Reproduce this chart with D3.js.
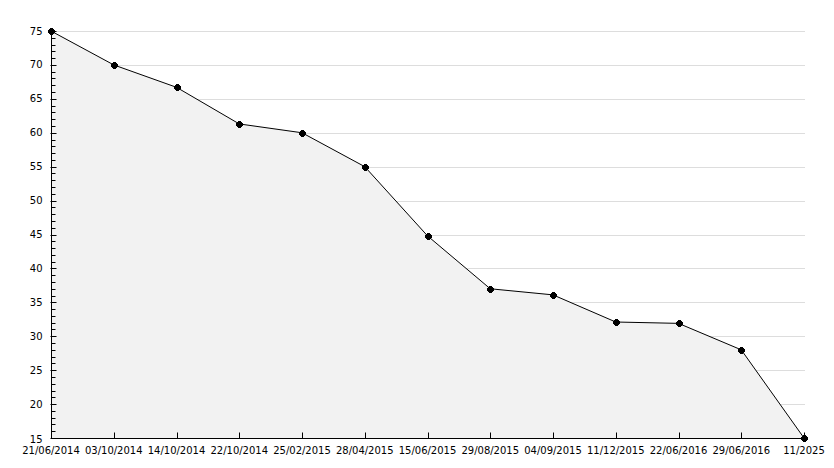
<!DOCTYPE html>
<html lang="en">
<head>
<meta charset="utf-8">
<title>Progress</title>
<script src="https://d3js.org/d3.v7.min.js"></script>
<style>
  body { margin: 0; background: #fff; font-family: "DejaVu Sans", Verdana, sans-serif; }
  text { font-size: 10px; fill: #000; }
</style>
</head>
<body>
<div id="vis"></div>
<script>
  // chart data
  const dates = ["21/06/2014", "03/10/2014", "14/10/2014", "22/10/2014", "25/02/2015", "28/04/2015",
    "15/06/2015", "29/08/2015", "04/09/2015", "11/12/2015", "22/06/2016", "29/06/2016", "11/2025"];
  const values = [75, 70, 66.7, 61.3, 60, 55, 44.8, 37, 36.1, 32.1, 31.9, 28, 15];
  const yTicks = [15, 20, 25, 30, 35, 40, 45, 50, 55, 60, 65, 70, 75];

  const width = 834, height = 468;
  // plot box
  const box = { left: 51, right: 805, top: 31, bottom: 438 };

  const svg = d3.select('#vis').append('svg')
    .attr('width', width)
    .attr('height', height);

  const x = d3.scalePoint().domain(d3.range(dates.length)).range([box.left, 804]);
  const y = d3.scaleLinear().domain([15, 75]).range([box.bottom, box.top]);

  // gridlines
  svg.append('g')
    .selectAll('line')
    .data(yTicks.slice(1))
    .join('line')
    .attr('x1', box.left).attr('x2', box.right)
    .attr('y1', d => Math.round(y(d)) + 0.5).attr('y2', d => Math.round(y(d)) + 0.5)
    .attr('stroke', '#dddddd');

  const pts = values.map((v, i) => [x(i), y(v)]);

  // area under the line
  svg.append('path')
    .datum(pts)
    .attr('fill', '#f2f2f2')
    .attr('d', d3.area().x(d => d[0]).y0(box.bottom).y1(d => d[1]));

  svg.append('path')
    .datum(pts)
    .attr('fill', 'none')
    .attr('stroke', '#000')
    .attr('stroke-width', 1)
    .attr('d', d3.line());

  // y axis, ticks pointing inward
  const yAxis = svg.append('g').attr('transform', `translate(${box.left + 0.5},0)`);
  yAxis.append('line').attr('y1', box.top - 2).attr('y2', box.bottom).attr('stroke', '#000');
  yAxis.selectAll('.minor')
    .data(d3.range(16, 75))
    .join('line')
    .attr('class', 'minor')
    .attr('x1', 0).attr('x2', 4)
    .attr('y1', d => Math.round(y(d)) + 0.5).attr('y2', d => Math.round(y(d)) + 0.5)
    .attr('stroke', '#000');
  yAxis.selectAll('.major')
    .data(yTicks)
    .join('line')
    .attr('class', 'major')
    .attr('x1', -1).attr('x2', 5)
    .attr('y1', d => Math.round(y(d)) + 0.5).attr('y2', d => Math.round(y(d)) + 0.5)
    .attr('stroke', '#000');
  yAxis.selectAll('text')
    .data(yTicks)
    .join('text')
    .attr('x', -9)
    .attr('y', d => y(d) + (d === 15 ? 1 : 0))
    .attr('dy', '0.35em')
    .attr('text-anchor', 'end')
    .text(d => d);

  // x axis, ticks pointing up
  const xAxis = svg.append('g').attr('transform', `translate(0,${box.bottom + 0.5})`);
  xAxis.append('line').attr('x1', box.left).attr('x2', box.right).attr('stroke', '#000');
  xAxis.selectAll('.tick')
    .data(d3.range(dates.length))
    .join('line')
    .attr('class', 'tick')
    .attr('x1', i => Math.round(x(i)) + 0.5).attr('x2', i => Math.round(x(i)) + 0.5)
    .attr('y1', 0).attr('y2', -6)
    .attr('stroke', '#000');
  xAxis.selectAll('text')
    .data(dates)
    .join('text')
    .attr('x', (d, i) => x(i))
    .attr('y', 15)
    .attr('text-anchor', 'middle')
    .text(d => d);

  // point markers: small blob with spikes, like the original asterisk dot
  const marker = svg.append('g')
    .attr('shape-rendering', 'crispEdges')
    .selectAll('g')
    .data(pts)
    .join('g')
    .attr('transform', d => `translate(${Math.round(d[0])},${Math.round(d[1])})`);
  marker.append('rect').attr('x', -2).attr('y', -2).attr('width', 5).attr('height', 5).attr('fill', '#000');
  marker.append('rect').attr('x', -3).attr('y', -1).attr('width', 7).attr('height', 3).attr('fill', '#000');
  marker.append('rect').attr('x', -1).attr('y', -3).attr('width', 3).attr('height', 7).attr('fill', '#000');
</script>
</body>
</html>
